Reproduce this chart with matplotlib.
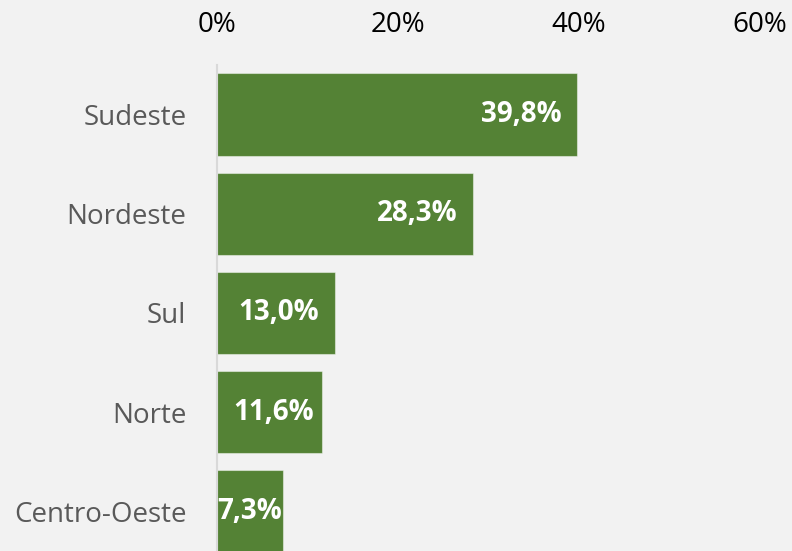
import numpy as np
import matplotlib.pyplot as plt
from matplotlib.ticker import FuncFormatter
import matplotlib.transforms as mtransforms

# data
regioes = ['Sudeste', 'Nordeste', 'Sul', 'Norte', 'Centro-Oeste']
valores = [39.8, 28.3, 13.0, 11.6, 7.3]
xticks = [0, 20, 40, 60]

plt.rcParams['font.family'] = ['Open Sans', 'DejaVu Sans']

bg = '#F2F2F2'
verde = '#548235'

fig = plt.figure(figsize=(7.92, 5.51), dpi=100, facecolor=bg)
ax = fig.add_axes([217 / 792, 0, (760 - 217) / 792, (551 - 65) / 551])
ax.set_facecolor(bg)

y = np.arange(len(regioes))
bars = ax.barh(y, valores, height=0.83, color=verde, edgecolor=(1, 1, 1, 0.45), linewidth=0.8)

ax.set_xlim(0, 60)
ax.set_ylim(4.4, -0.5)
ax.set_xticks(xticks)
ax.xaxis.set_major_formatter(FuncFormatter(lambda v, p: f'{v:.0f}%'))
ax.xaxis.tick_top()
ax.tick_params(axis='x', length=0, pad=19, labelsize=20, labelcolor='black')
ax.set_yticks(y)
ax.set_yticklabels(regioes)
ax.tick_params(axis='y', length=0, pad=22, labelsize=20, labelcolor='#595959')

for s in ['top', 'right', 'bottom']:
    ax.spines[s].set_visible(False)
ax.spines['left'].set_color('#D9D9D9')
ax.spines['left'].set_linewidth(1.5)

# data labels: inside end, pushed right if too close to the axis
fig.canvas.draw()
renderer = fig.canvas.get_renderer()
x_left = ax.transData.transform((0, 0))[0]
for yi, v in zip(y, valores):
    lab = f'{v:.1f}%'.replace('.', ',')
    t = ax.text(v, yi, lab, ha='right', va='center', color='white',
                fontsize=20, fontweight='bold')
    off = mtransforms.ScaledTranslation(-16 / 100, 0, fig.dpi_scale_trans)
    t.set_transform(ax.transData + off)
    bb = t.get_window_extent(renderer)
    x_end = ax.transData.transform((v, 0))[0]
    shift = 0
    if bb.x0 < x_left + 16:
        shift = x_left + 16 - bb.x0
    if bb.x1 + shift > x_end - 1:
        shift = x_end - 1 - bb.x1
    if shift:
        off = mtransforms.ScaledTranslation((-16 + shift) / 100, 0, fig.dpi_scale_trans)
        t.set_transform(ax.transData + off)

fig.savefig('out.png', dpi=100, facecolor=bg)
